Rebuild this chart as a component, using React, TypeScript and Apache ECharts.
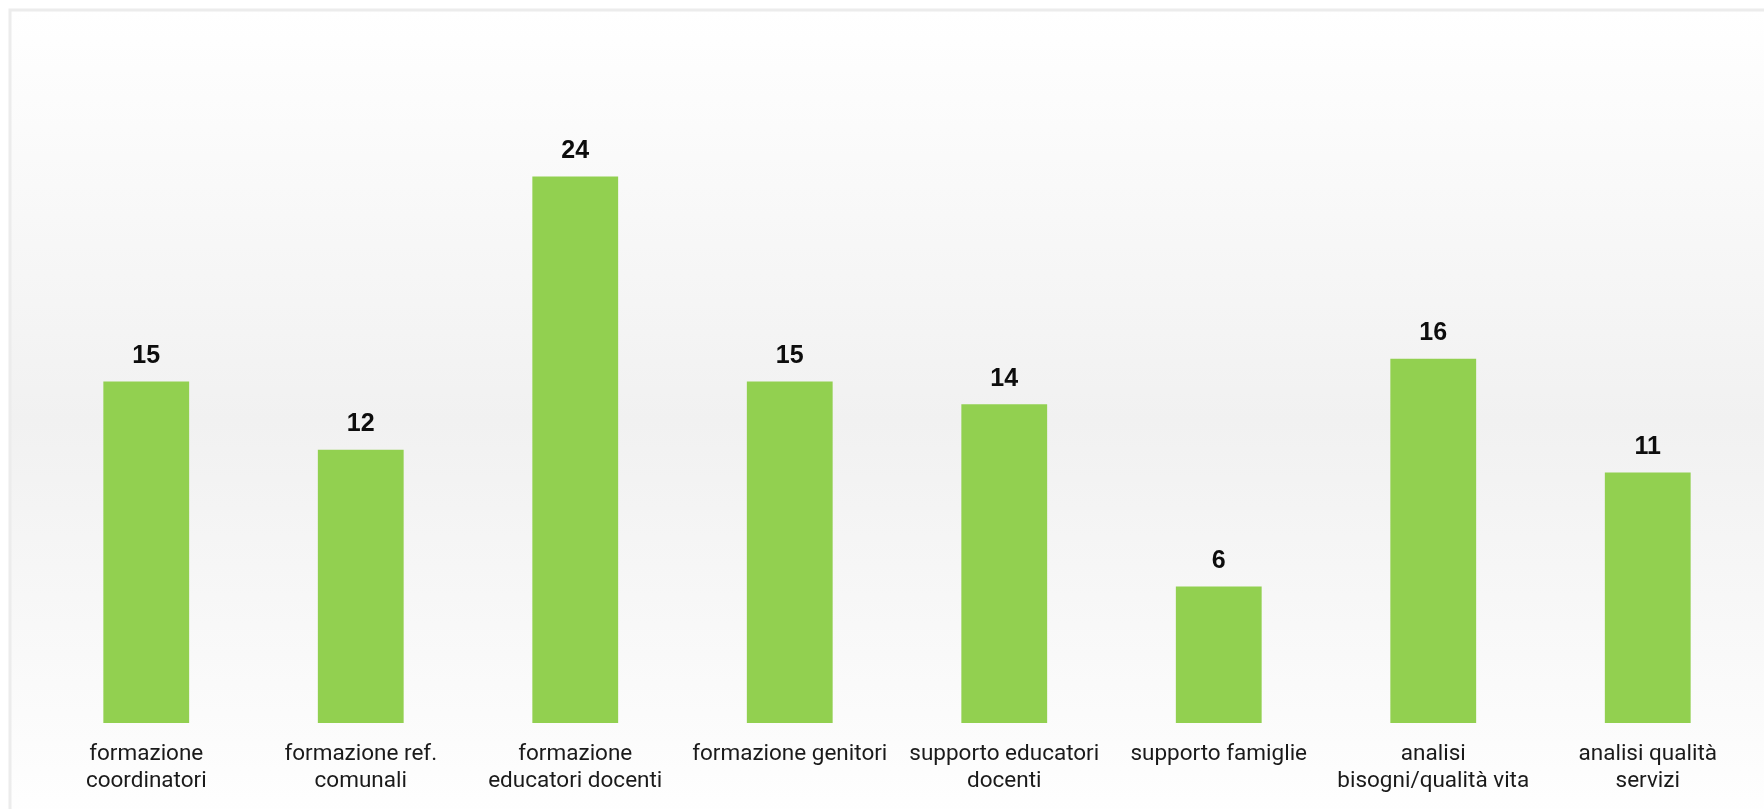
import React, { useEffect, useRef } from "react";
import * as echarts from "echarts";

const categories = [
  "formazione\ncoordinatori",
  "formazione ref.\ncomunali",
  "formazione\neducatori docenti",
  "formazione genitori",
  "supporto educatori\ndocenti",
  "supporto famiglie",
  "analisi\nbisogni/qualità vita",
  "analisi qualità\nservizi",
];
const values = [15, 12, 24, 15, 14, 6, 16, 11];

export default function App() {
  const ref = useRef<HTMLDivElement>(null);
  useEffect(() => {
    if (!ref.current) return;
    const chart = echarts.init(ref.current, undefined, { renderer: "svg" });
    chart.setOption({
      animation: false,
      graphic: [
        {
          type: "rect",
          z: -10,
          silent: true,
          shape: { x: 10, y: 10, width: 1770, height: 820 },
          style: {
            fill: new echarts.graphic.LinearGradient(0, 0, 0, 1, [
              { offset: 0, color: "#ffffff" },
              { offset: 0.5, color: "#f1f1f1" },
              { offset: 1, color: "#ffffff" },
            ]),
            stroke: "#ececec",
            lineWidth: 3,
          },
        },
      ],
      grid: { left: 39, right: 9, top: 40, bottom: 86, containLabel: false },
      xAxis: {
        type: "category",
        data: categories,
        axisLine: { show: false },
        axisTick: { show: false },
        axisLabel: {
          interval: 0,
          margin: 15,
          fontFamily: "Roboto",
          fontSize: 22.5,
          lineHeight: 27,
          color: "#1a1a1a",
        },
      },
      yAxis: {
        type: "value",
        min: 0,
        max: 30,
        show: false,
        splitLine: { show: false },
      },
      series: [
        {
          type: "bar",
          data: values,
          barWidth: "40%",
          itemStyle: { color: "#92d050" },
          label: {
            show: true,
            position: "top",
            distance: 15,
            fontFamily: "Arial, Liberation Sans",
            fontWeight: "bold",
            fontSize: 25,
            color: "#0d0d0d",
          },
        },
      ],
    });
    return () => chart.dispose();
  }, []);
  return (
    <div
      ref={ref}
      style={{ position: "fixed", left: 0, top: 0, width: 1764, height: 809 }}
    />
  );
}
